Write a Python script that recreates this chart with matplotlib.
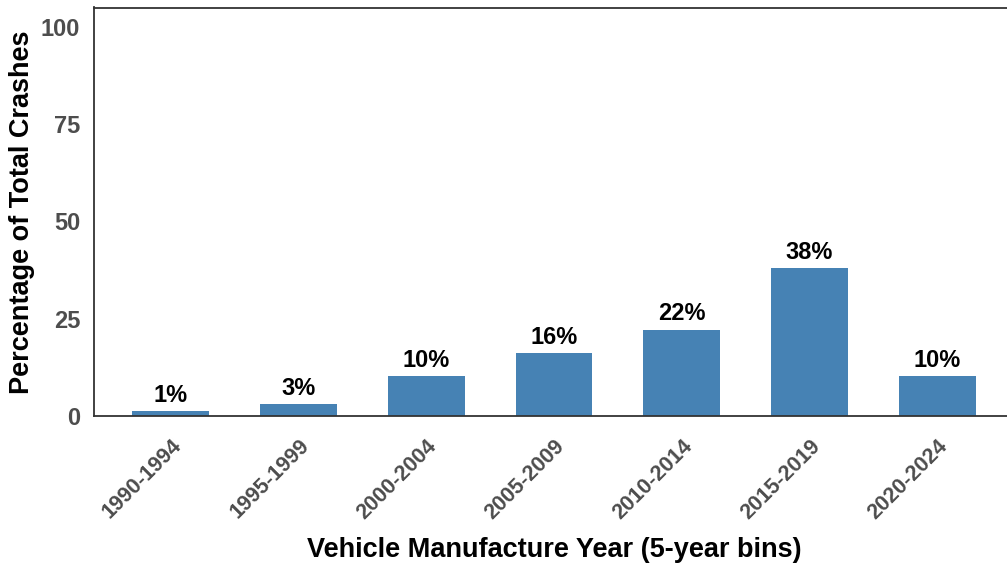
import matplotlib.pyplot as plt
import matplotlib.transforms as mtransforms
import numpy as np

# share of total crashes by vehicle manufacture year
year_bins = ["1990-1994", "1995-1999", "2000-2004", "2005-2009",
             "2010-2014", "2015-2019", "2020-2024"]
pct_crashes = [1.2, 3.1, 10.3, 16.2, 22.2, 38.1, 10.3]
y_ticks = [0, 25, 50, 75, 100]

plt.rcParams["font.family"] = ["Liberation Sans", "DejaVu Sans"]
plt.rcParams["font.weight"] = "bold"

fig = plt.figure(figsize=(10.07, 5.65), dpi=100)
ax = fig.add_axes([94 / 1007, 1 - 416 / 565, (1014 - 94) / 1007, (416 - 7.5) / 565])

x = np.arange(len(year_bins))
ax.bar(x, pct_crashes, width=0.6, color="#4682B4")

for xi, v in zip(x, pct_crashes):
    ax.annotate(f"{v:.0f}%", (xi, v), xytext=(0, 3), textcoords="offset points",
                ha="center", va="bottom", fontsize=17, fontweight="bold", color="black")

ax.set_xlim(-0.6, len(year_bins) - 0.4)
ax.set_ylim(0, 105)
ax.set_yticks(y_ticks)
ax.set_xticks(x)
ax.set_xticklabels(year_bins, rotation=45, ha="right", va="top",
                   rotation_mode="anchor", fontsize=15.5, color="#4D4D4D")
offset = mtransforms.ScaledTranslation(12 / 100, 0, fig.dpi_scale_trans)
for lbl in ax.get_xticklabels():
    lbl.set_transform(lbl.get_transform() + offset)
ax.tick_params(axis="y", labelsize=17, labelcolor="#4D4D4D", length=0, pad=10)
ax.tick_params(axis="x", length=0, pad=14)

for sp in ax.spines.values():
    sp.set_color("#333333")
    sp.set_linewidth(1.3)

ax.set_xlabel("Vehicle Manufacture Year (5-year bins)", fontsize=19.5,
              fontweight="bold", labelpad=10)
ax.set_ylabel("Percentage of Total Crashes", fontsize=19.5,
              fontweight="bold", va="center")
ax.yaxis.set_label_coords(-0.078, 0.5)

fig.savefig("out.png", dpi=100)
